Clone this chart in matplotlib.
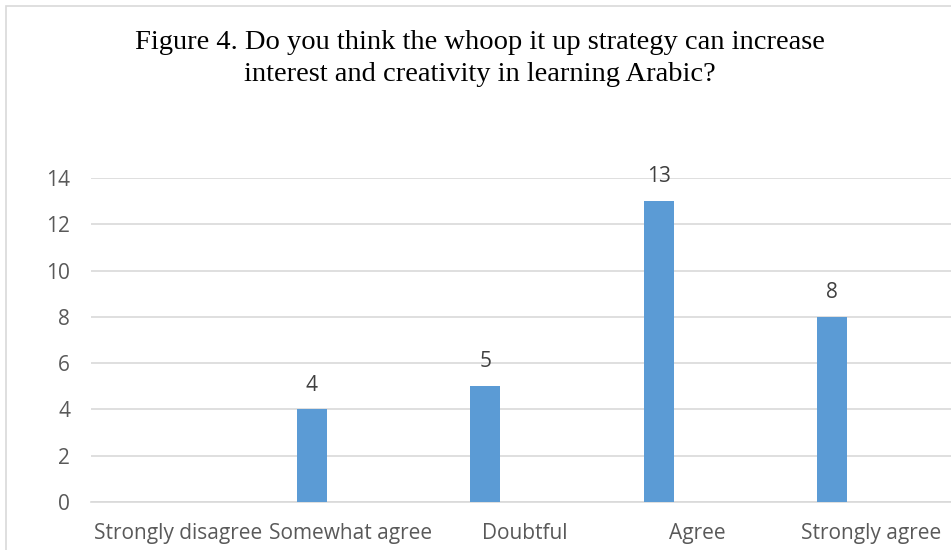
import matplotlib.pyplot as plt
from matplotlib.patches import Rectangle

# ── Data ─────────────────────────────────────────────────────────────────────
categories = ["Strongly disagree", "Somewhat agree", "Doubtful", "Agree", "Strongly agree"]
values = [0, 4, 5, 13, 8]
title = "Figure 4. Do you think the whoop it up strategy can increase\ninterest and creativity in learning Arabic?"

BAR_COLOR = "#5B9BD5"
GRID_COLOR = "#D9D9D9"
TEXT_COLOR = "#595959"
FONT = "Open Sans"
FS = 15
W, H = 951, 550
# ─────────────────────────────────────────────────────────────────────────────

fig = plt.figure(figsize=(W / 100, H / 100), dpi=100)

# chart-area border (cropped at right and bottom in the original)
fig.patches.append(Rectangle((5.5 / W, -0.1), 2.0, (H - 5.5) / H + 0.1,
                             transform=fig.transFigure, fill=False,
                             edgecolor=GRID_COLOR, lw=1.2))

# plot area runs a bit past the right edge, like the reference crop
ax = fig.add_axes([91 / W, 48 / H, 866.5 / W, 324 / H])

x = list(range(len(categories)))
offset = -0.225
bar_x = [i + offset for i in x]
ax.bar(bar_x, values, width=0.173, color=BAR_COLOR, zorder=3)

for bx, v in zip(bar_x, values):
    if v > 0:
        ax.text(bx, v + 0.6, str(v), ha="center", va="bottom",
                fontsize=FS, color="#404040", family=FONT)

ax.set_xlim(-0.5, 4.5)
ax.set_ylim(0, 14)
ax.set_yticks(range(0, 15, 2))
ax.set_xticks(x)
ax.set_xticklabels(categories)
ax.grid(axis="y", color=GRID_COLOR, lw=1.2, zorder=0)
for s in ["top", "right", "left"]:
    ax.spines[s].set_visible(False)
ax.spines["bottom"].set_color(GRID_COLOR)
ax.spines["bottom"].set_linewidth(1.2)
ax.tick_params(axis="both", length=0, colors=TEXT_COLOR, labelsize=FS)
ax.tick_params(axis="y", pad=15)
ax.tick_params(axis="x", pad=15)
for lbl in ax.get_xticklabels() + ax.get_yticklabels():
    lbl.set_family(FONT)

fig.text(480 / W, 1 - 30 / H, title, ha="center", va="top",
         fontsize=20.5, family="Liberation Serif", color="#000000",
         linespacing=1.35)

fig.savefig("out.png", dpi=100)
